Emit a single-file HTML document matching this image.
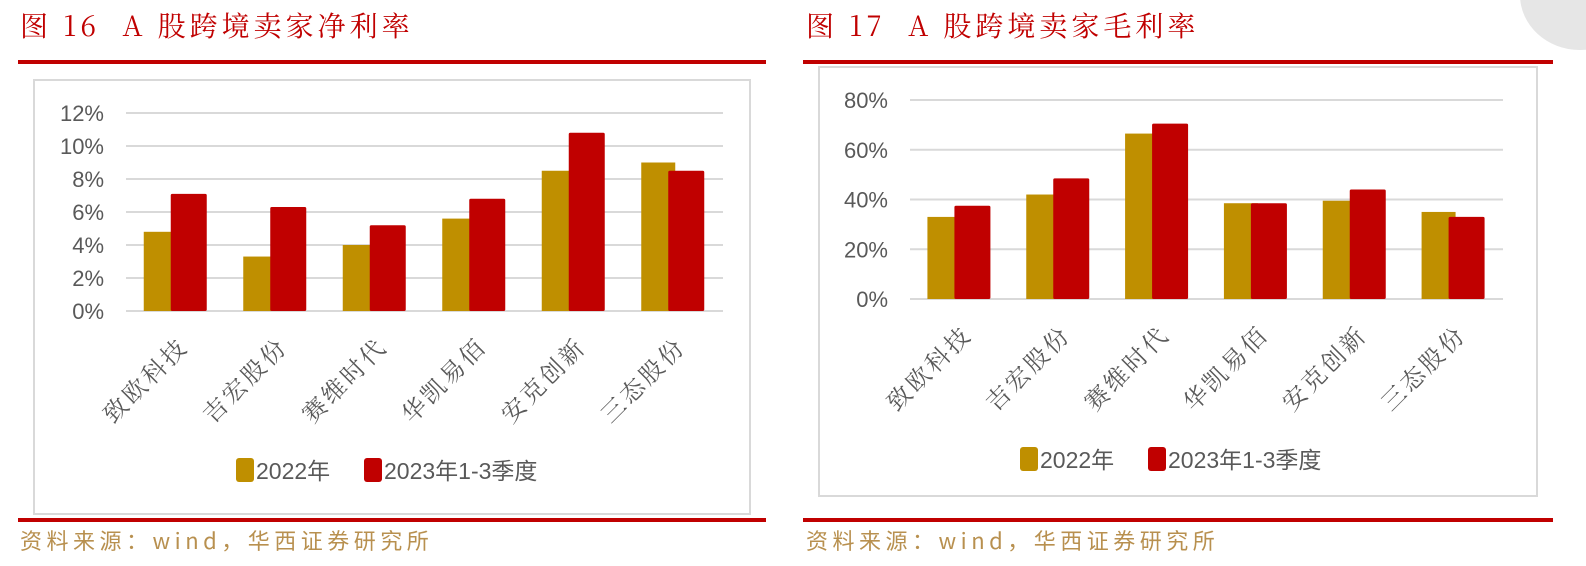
<!DOCTYPE html>
<html><head><meta charset="utf-8"><style>
body{margin:0;width:1586px;height:566px;background:#fff;overflow:hidden;position:relative;font-family:"Liberation Sans","Noto Sans CJK SC",sans-serif}
.t{position:absolute;top:5px;font-family:"Noto Serif CJK SC","Noto Sans CJK SC",serif;font-size:28px;color:#c00000;letter-spacing:4px}
.r{position:absolute;background:#c00000}
.src{position:absolute;top:524px;font-family:"Noto Sans CJK SC",sans-serif;font-size:22px;color:#b8904f;letter-spacing:4.5px}
</style></head><body>
<div class="t" style="left:20px">图 16&nbsp;&nbsp;A 股跨境卖家净利率</div>
<div class="t" style="left:806px">图 17&nbsp;&nbsp;A 股跨境卖家毛利率</div>
<div class="r" style="left:18px;top:60px;width:748px;height:4px"></div>
<div class="r" style="left:803px;top:60px;width:750px;height:4px"></div>
<div class="r" style="left:18px;top:518px;width:748px;height:4px"></div>
<div class="r" style="left:803px;top:518px;width:750px;height:4px"></div>
<div class="src" style="left:20px">资料来源：wind，华西证券研究所</div>
<div class="src" style="left:806px">资料来源：wind，华西证券研究所</div>
<div style="position:absolute;left:1520px;top:-60px;width:120px;height:110px;border-radius:50%;background:#e6e6e6"></div>
<svg id="svg" width="1586" height="566" style="position:absolute;left:0;top:0"></svg>
<script>
const categories=["致欧科技","吉宏股份","赛维时代","华凯易佰","安克创新","三态股份"];
const seriesNames=["2022年","2023年1-3季度"];
const netMargin2022=[4.8,3.3,4.0,5.6,8.5,9.0];
const netMargin2023=[7.1,6.3,5.2,6.8,10.8,8.5];
const netTicks=[0,2,4,6,8,10,12];
const grossMargin2022=[33,42,66.5,38.5,39.5,35];
const grossMargin2023=[37.5,48.5,70.5,38.5,44,33];
const grossTicks=[0,20,40,60,80];
const NS="http://www.w3.org/2000/svg";
const svg=document.getElementById('svg');
function mk(tag,attrs,parent){const e=document.createElementNS(NS,tag);for(const k in attrs)e.setAttribute(k,attrs[k]);(parent||svg).appendChild(e);return e;}
function chart(cfg){
  const g=mk('g',{});
  
  
  const box=mk('rect',{x:cfg.bx,y:cfg.by,width:cfg.bw,height:cfg.bh,fill:'#fff',stroke:'#d9d9d9','stroke-width':2},g);
  
  
  const max=cfg.ticks[cfg.ticks.length-1];
  const y=v=>cfg.y0-(v/max)*(cfg.y0-cfg.y1);
  const cw=(cfg.x1-cfg.x0)/categories.length;
  cfg.ticks.forEach(t=>{
    const l=mk('line',{x1:cfg.x0,x2:cfg.x1,y1:y(t),y2:y(t),stroke:'#d9d9d9','stroke-width':2},g);
    
    
    const tx=mk('text',{x:cfg.x0-22,y:y(t)+8,'text-anchor':'end','font-size':22,fill:'#595959'},g);
    tx.textContent=t+'%';
    
    
  });
  categories.forEach((c,i)=>{
    const cx=cfg.x0+cw*(i+0.5);
    const b1=mk('rect',{x:cx-32,y:y(cfg.a[i]),width:34,height:y(0)-y(cfg.a[i]),fill:'#bf8f00'},g);
    
    
    const b2=mk('rect',{x:cx-5,y:y(cfg.b[i]),width:36,height:y(0)-y(cfg.b[i]),fill:'#c00000',rx:1.5},g);
    
    
    const lx=cx+14, ly=cfg.ly;
    const tx=mk('text',{x:lx,y:ly,'text-anchor':'end','font-size':24,fill:'#595959','font-family':'"Noto Serif CJK SC","Noto Sans CJK SC",serif',transform:`rotate(-45 ${lx} ${ly})`,'letter-spacing':3},g);
    tx.textContent=c;
    
    
  });
  let lx=cfg.legx;
  [['#bf8f00',seriesNames[0]],['#c00000',seriesNames[1]]].forEach((s,k)=>{
    const r=mk('rect',{x:lx,y:cfg.legy-12,width:18,height:24,rx:3,fill:s[0]},g);
    
    
    const t=mk('text',{x:lx+20,y:cfg.legy+9,'font-size':23,fill:'#595959'},g);
    t.textContent=s[1];
    
    
    lx+=128;
  });
}
chart({name:'net-margin-chart',bx:34,by:80,bw:716,bh:434,x0:126,x1:723,y0:311,y1:113,ticks:netTicks,a:netMargin2022,b:netMargin2023,ly:348,legx:236,legy:470});
chart({name:'gross-margin-chart',bx:819,by:67,bw:718,bh:429,x0:910,x1:1503,y0:299,y1:100,ticks:grossTicks,a:grossMargin2022,b:grossMargin2023,ly:336,legx:1020,legy:459});
</script>
</body></html>
